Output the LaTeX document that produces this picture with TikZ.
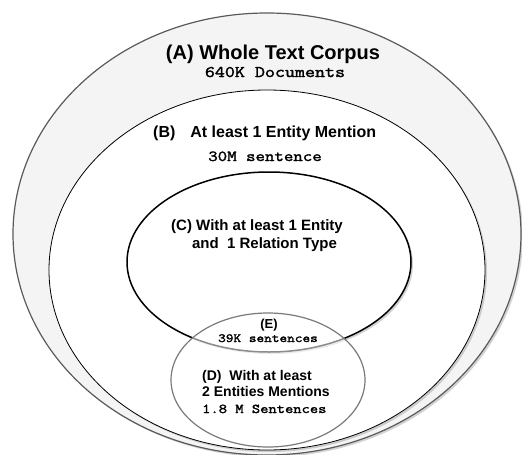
\documentclass[tikz,border=0pt]{standalone}
\usepackage{fontspec}
\setmainfont{Liberation Sans}
\newfontfamily\monofont[FakeStretch=1.2, FakeBold=2]{Latin Modern Mono}
\usetikzlibrary{shapes.geometric,shadows}
\definecolor{afill}{HTML}{F4F4F4}
\definecolor{aline}{HTML}{5A5A5A}
\definecolor{dline}{HTML}{7A7A7A}
\tikzset{
  setshape/.style={ellipse, inner sep=0pt, drop shadow={shadow xshift=2pt, shadow yshift=-2pt, opacity=0.35}},
  sanslabel/.style={inner sep=0pt, font=\bfseries},
  monolabel/.style={inner sep=0pt, font=\monofont},
}
\begin{document}
\begin{tikzpicture}[x=1pt,y=-1pt]
\useasboundingbox (0,0) rectangle (522,455);
\node[setshape, draw=aline, line width=1.2pt, fill=afill, minimum width=508pt, minimum height=442pt] (A) at (267,234) {};
\node[setshape, draw=black, line width=0.8pt, fill=white, minimum width=436pt, minimum height=360pt] (B) at (267,270) {};
\node[setshape, draw=black, line width=1.5pt, fill=white, minimum width=284pt, minimum height=180pt] (C) at (269,262) {};
\node[ellipse, inner sep=0pt, draw=dline, line width=1.2pt, fill=white, fill opacity=0.55, minimum width=194pt, minimum height=134pt] (D) at (268,380) {};
% texts
\node[sanslabel, anchor=base] (Atitle) at (273,59) {\fontsize{20}{24}\selectfont (A) Whole Text Corpus};
\node[monolabel, anchor=base] (Anum) at (275,77) {\fontsize{16.2}{20}\selectfont 640K Documents};
\node[sanslabel, anchor=base west] (Btitle) at (153,137) {\fontsize{16}{19}\selectfont (B)\hspace{15pt}At least 1 Entity Mention};
\node[monolabel, anchor=base] (Bnum) at (265,161) {\fontsize{15.3}{19}\selectfont 30M sentence};
\node[sanslabel, anchor=base] (Ct1) at (257,230) {\fontsize{15}{18}\selectfont (C) With at least 1 Entity};
\node[sanslabel, anchor=base] (Ct2) at (264.5,248) {\fontsize{15}{18}\selectfont and\ \ 1 Relation Type};
\node[sanslabel, anchor=base] (Et) at (269,328) {\fontsize{13}{16}\selectfont (E)};
\node[monolabel, anchor=base] (Enum) at (268,342) {\fontsize{12.4}{16}\selectfont 39K sentences};
\node[sanslabel, anchor=base west] (Dt1) at (202,380) {\fontsize{14}{17}\selectfont (D)\ \ With at least};
\node[sanslabel, anchor=base west] (Dt2) at (202,396) {\fontsize{14}{17}\selectfont 2 Entities Mentions};
\node[monolabel, anchor=base west] (Dnum) at (202,413) {\fontsize{13.4}{17}\selectfont 1.8 M Sentences};
\end{tikzpicture}
\end{document}
